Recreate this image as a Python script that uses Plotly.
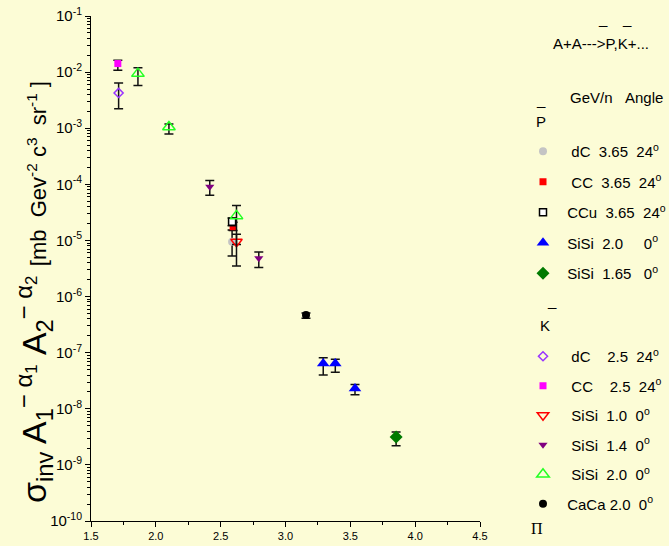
import plotly.graph_objects as go

# ---------------- data ----------------
# antiproton (P-bar) series
p_dc_x = [2.588]; p_dc_y = [9.5e-6]; p_dc_lo = [5.3e-6]; p_dc_hi = [1.54e-5]
p_cc_x = [2.596]; p_cc_y = [1.76e-5]; p_cc_lo = [1.5e-5]; p_cc_hi = [2.1e-5]
p_ccu_x = [2.588]; p_ccu_y = [2.15e-5]; p_ccu_lo = [1.82e-5]; p_ccu_hi = [2.52e-5]
p_sisi20_x = [3.291, 3.384, 3.536]; p_sisi20_y = [6.4e-8, 6.4e-8, 2.29e-8]
p_sisi20_lo = [4.0e-8, 4.5e-8, 1.77e-8]; p_sisi20_hi = [8.1e-8, 7.6e-8, 2.7e-8]
p_sisi165_x = [3.853]; p_sisi165_y = [3.14e-9]; p_sisi165_lo = [2.2e-9]; p_sisi165_hi = [3.86e-9]

# kaon (K-bar) series
k_dc_x = [1.713]; k_dc_y = [4.25e-3]; k_dc_lo = [2.23e-3]; k_dc_hi = [6.4e-3]
k_cc_x = [1.707]; k_cc_y = [1.42e-2]; k_cc_lo = [1.08e-2]; k_cc_hi = [1.63e-2]
k_sisi10_x = [2.622]; k_sisi10_y = [9.5e-6]; k_sisi10_lo = [8.5e-6]; k_sisi10_hi = [1.29e-5]
k_sisi14_x = [2.416, 2.794]; k_sisi14_y = [9.1e-5, 4.8e-6]
k_sisi14_lo = [6.4e-5, 3.3e-6]; k_sisi14_hi = [1.17e-4, 6.2e-6]
k_sisi20_x = [1.862, 2.101, 2.622]; k_sisi20_y = [9.4e-3, 1.05e-3, 2.74e-5]
k_sisi20_lo = [5.8e-3, 7.9e-4, 3.5e-6]; k_sisi20_hi = [1.19e-2, 1.19e-3, 4.2e-5]
k_caca_x = [3.158]; k_caca_y = [4.7e-7]; k_caca_lo = [4.1e-7]; k_caca_hi = [5.1e-7]

x_ticks = [1.5, 2.0, 2.5, 3.0, 3.5, 4.0, 4.5]
x_ticktext = ["1.5", "2.0", "2.5", "3.0", "3.5", "4.0", "4.5"]
y_exps = [-1, -2, -3, -4, -5, -6, -7, -8, -9, -10]

NB = "\u00a0"
BG = "#FCFCD6"

def nb(s):
    return s.replace(" ", NB)

fig = go.Figure()

def add(x, y, lo, hi, name, legend, symbol, color, size, line_color=None, line_w=0):
    fig.add_trace(go.Scatter(
        x=x, y=y, mode="markers", name=nb(name), legend=legend, legendgroup=name + legend,
        marker=dict(symbol=symbol, color=color, size=size,
                    line=dict(color=line_color or color, width=line_w)),
        error_y=dict(type="data", symmetric=False,
                     array=[h - v for h, v in zip(hi, y)],
                     arrayminus=[v - l for l, v in zip(lo, y)],
                     color="#111111", thickness=1.5, width=4.5),
    ))

# P-bar
add(p_dc_x, p_dc_y, p_dc_lo, p_dc_hi, "  dC  3.65  24<sup>o</sup>", "legend", "circle", "#c4c4c4", 8)
add(p_cc_x, p_cc_y, p_cc_lo, p_cc_hi, "  CC  3.65  24<sup>o</sup>", "legend", "square", "#ff0000", 7)
add(p_ccu_x, p_ccu_y, p_ccu_lo, p_ccu_hi, " CCu  3.65  24<sup>o</sup>", "legend", "square", "#ffffff", 7, "#000000", 1.5)
add(p_sisi20_x, p_sisi20_y, p_sisi20_lo, p_sisi20_hi, " SiSi  2.0     0<sup>o</sup>", "legend", "triangle-up", "#0000ff", 11)
add(p_sisi165_x, p_sisi165_y, p_sisi165_lo, p_sisi165_hi, " SiSi  1.65   0<sup>o</sup>", "legend", "diamond", "#007a00", 10)
# K-bar
add(k_dc_x, k_dc_y, k_dc_lo, k_dc_hi, "  dC    2.5  24<sup>o</sup>", "legend2", "diamond-open", "#9933ff", 7, "#9933ff", 1.5)
add(k_cc_x, k_cc_y, k_cc_lo, k_cc_hi, "  CC    2.5  24<sup>o</sup>", "legend2", "square", "#ff00ff", 7)
add(k_sisi10_x, k_sisi10_y, k_sisi10_lo, k_sisi10_hi, "  SiSi  1.0  0<sup>o</sup>", "legend2", "triangle-down-open", "#ff0000", 10, "#ff0000", 1.5)
add(k_sisi14_x, k_sisi14_y, k_sisi14_lo, k_sisi14_hi, "  SiSi  1.4  0<sup>o</sup>", "legend2", "triangle-down", "#800080", 8)
add(k_sisi20_x, k_sisi20_y, k_sisi20_lo, k_sisi20_hi, "  SiSi  2.0  0<sup>o</sup>", "legend2", "triangle-up-open", "#22ff22", 11, "#22ff22", 1.5)
add(k_caca_x, k_caca_y, k_caca_lo, k_caca_hi, " CaCa 2.0  0<sup>o</sup>", "legend2", "circle", "#000000", 8)

L, R, T, B = 91, 189, 16, 25
PW, PH = 669 - L - R, 546 - T - B

def px(X):
    return (X - L) / PW

def py(Y):
    return 1 - (Y - T) / PH

FONT = "Liberation Sans, Arial, sans-serif"
NARROW = "Liberation Sans Narrow, Arial Narrow, Liberation Sans, Arial, sans-serif"

ytitle = ("σ<sub>inv</sub> A<sub>1</sub><sup>− α<sub>1</sub></sup> "
          "A<sub>2</sub><sup>− α<sub>2</sub></sup> "
          "<span style='font-size:22px'>[mb  Gev<sup>-2</sup> c<sup>3</sup>  sr<sup>-1</sup> ]</span>")

ann = [
    dict(text=ytitle, x=px(34), y=py(292), textangle=-90, font=dict(size=34)),
    dict(text="A+A--->P,K+...", x=px(601), y=py(43.5), font=dict(size=15)),
    dict(text="_", x=px(602.5), y=py(18), font=dict(size=15)),
    dict(text="_", x=px(627), y=py(18), font=dict(size=15)),
    dict(text=nb("GeV/n   Angle"), x=px(616), y=py(97), font=dict(size=15)),
    dict(text="_", x=px(541), y=py(99), font=dict(size=15)),
    dict(text="P", x=px(541), y=py(122), font=dict(size=15)),
    dict(text="_", x=px(552), y=py(300), font=dict(size=15)),
    dict(text="K", x=px(545), y=py(325), font=dict(size=15)),
    dict(text="Π", x=px(537), y=py(528.5), font=dict(size=16, family="Liberation Serif, Times New Roman, serif")),
]
for a in ann:
    a.update(xref="paper", yref="paper", showarrow=False, xanchor="center", yanchor="middle")
    a["font"].setdefault("family", FONT)
    a["font"]["color"] = "black"

fig.update_layout(
    width=669, height=546,
    margin=dict(l=L, r=R, t=T, b=B, pad=0, autoexpand=False),
    paper_bgcolor=BG, plot_bgcolor=BG,
    font=dict(family=FONT, color="black"),
    annotations=ann,
    showlegend=True,
    legend=dict(x=px(523), y=py(135), xanchor="left", yanchor="top", bgcolor="rgba(0,0,0,0)",
                font=dict(size=15, family=FONT), tracegroupgap=8, traceorder="grouped",
                itemclick=False),
    legend2=dict(x=px(523), y=py(340), xanchor="left", yanchor="top", bgcolor="rgba(0,0,0,0)",
                 font=dict(size=15, family=FONT), tracegroupgap=7, traceorder="grouped",
                 itemclick=False),
    xaxis=dict(range=[1.5, 4.5], showgrid=False, zeroline=False, showline=True,
               linecolor="black", linewidth=1, ticks="outside", ticklen=5, tickcolor="black",
               tickvals=x_ticks, ticktext=x_ticktext, tickfont=dict(size=11, family=NARROW),
               minor=dict(dtick=0.25, ticks="outside", ticklen=3, tickcolor="black", showgrid=False)),
    yaxis=dict(type="log", range=[-10, -1], showgrid=False, zeroline=False, showline=True,
               linecolor="black", linewidth=1, ticks="outside", ticklen=5, tickcolor="black",
               tickvals=[10.0 ** e for e in y_exps],
               ticktext=["10<sup>%d</sup>" % e for e in y_exps],
               tickfont=dict(size=15, family=NARROW),
               minor=dict(dtick="D1", ticks="outside", ticklen=3, tickcolor="black", showgrid=False)),
)

fig.write_html("out.html")
